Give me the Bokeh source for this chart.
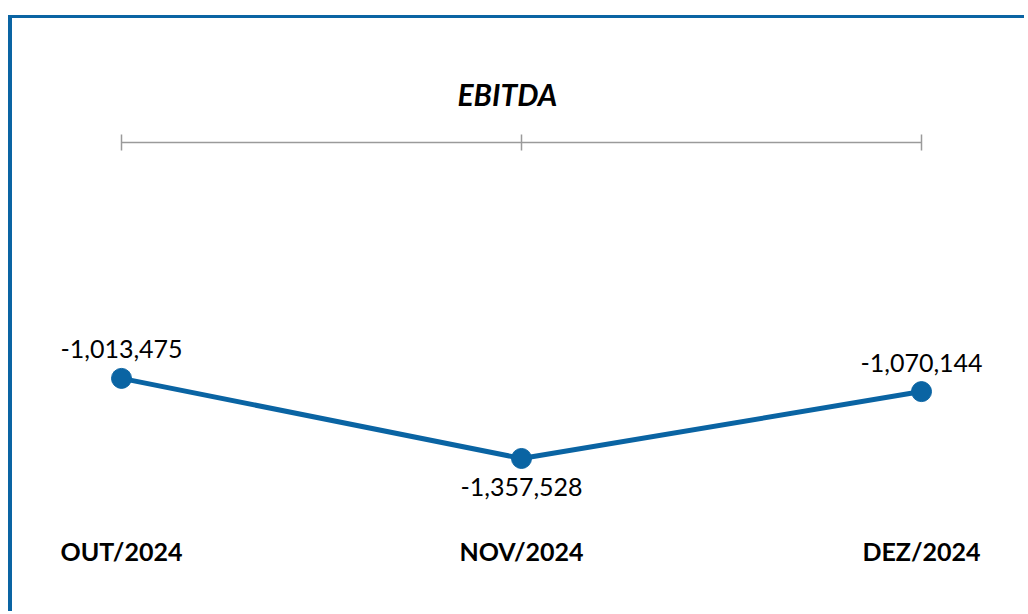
from bokeh.plotting import figure
from bokeh.models import ColumnDataSource, LabelSet, LinearAxis, FixedTicker, Range1d
from bokeh.core.properties import value
from bokeh.embed import file_html
from bokeh.resources import INLINE

categories = ["OUT/2024", "NOV/2024", "DEZ/2024"]
ebitda = [-1013475, -1357528, -1070144]

BLUE = "#0a64a3"
FONT = "Lato"

xs = list(range(len(categories)))
labels = [f"{v:,}" for v in ebitda]
vmin = min(ebitda)
offsets = [-29 if v == vmin else 29 for v in ebitda]

src = ColumnDataSource(dict(x=xs, y=ebitda, label=labels, off=offsets))

W, H = 1016, 596
p = figure(width=W, height=H, output_backend="svg", toolbar_location=None,
           x_range=Range1d(-0.2725, 2.2675), y_range=Range1d(-1624000, 0),
           x_axis_location=None, y_axis_location=None,
           min_border_left=0, min_border_right=0, min_border_top=124, min_border_bottom=94,
           title="EBITDA")
p.styles = {"margin-top": "15px", "margin-left": "8px",
            "border-top": "3px solid " + BLUE, "border-left": "4px solid " + BLUE}
p.outline_line_color = None
p.grid.visible = False
p.background_fill_color = "white"
p.border_fill_color = "white"

p.title.align = "left"
p.title.offset = 445
p.title.text_font = FONT
p.title.text_font_size = "30px"
p.title.text_font_style = "bold italic"
p.title.text_color = "black"
p.title.standoff = 46

top = LinearAxis(ticker=FixedTicker(ticks=xs), bounds=(0, len(xs) - 1))
top.axis_line_color = "#9a9a9a"
top.axis_line_width = 1.5
top.major_tick_line_color = "#9a9a9a"
top.major_tick_line_width = 1.5
top.major_tick_in = 8
top.major_tick_out = 8
top.minor_tick_line_color = None
top.major_label_text_font_size = "0px"
top.major_label_overrides = {i: "" for i in xs}
p.add_layout(top, "above")

bottom = LinearAxis(ticker=FixedTicker(ticks=xs))
bottom.axis_line_color = None
bottom.major_tick_line_color = None
bottom.minor_tick_line_color = None
bottom.major_label_overrides = {i: c for i, c in zip(xs, categories)}
bottom.major_label_text_font = FONT
bottom.major_label_text_font_size = "25px"
bottom.major_label_text_font_style = "bold"
bottom.major_label_text_color = "black"
bottom.major_label_standoff = 9
p.add_layout(bottom, "below")

p.line("x", "y", source=src, line_color=BLUE, line_width=5)
p.scatter("x", "y", source=src, size=20, fill_color=BLUE, line_color=BLUE)

ls = LabelSet(x="x", y="y", text="label", source=src, y_offset="off",
              text_align="center", text_baseline="middle",
              text_font=value(FONT), text_font_size="25px", text_color="black")
p.add_layout(ls)

open("out.html", "w").write(file_html(p, INLINE))
